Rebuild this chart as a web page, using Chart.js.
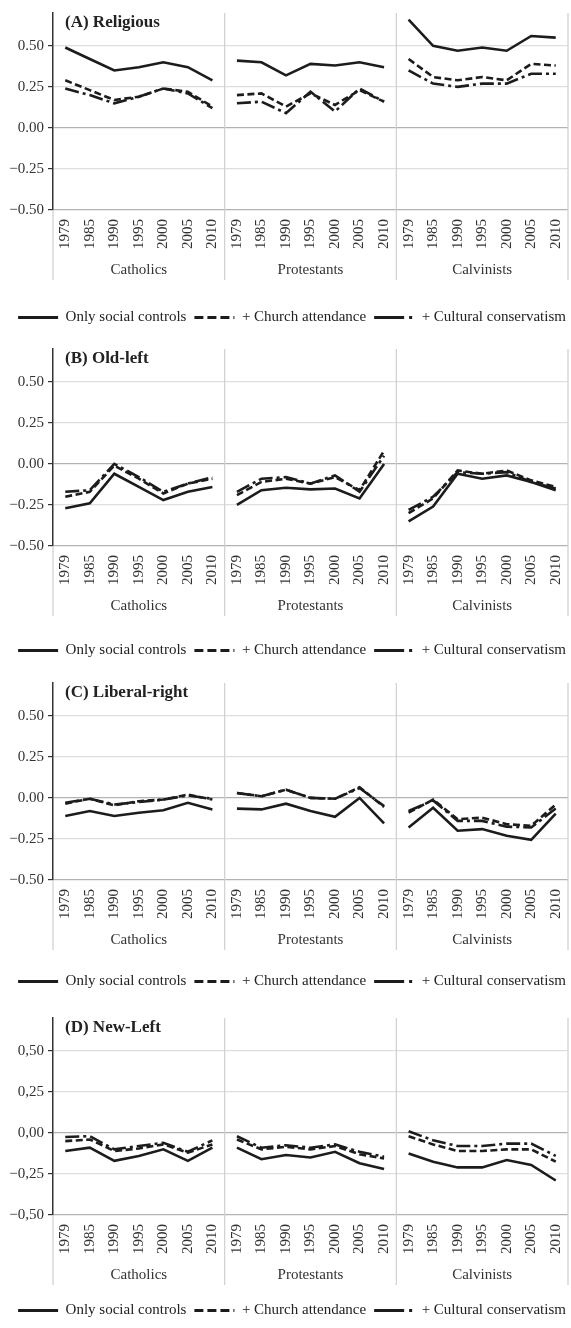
<!DOCTYPE html>
<html>
<head>
<meta charset="utf-8">
<script src="https://cdn.jsdelivr.net/npm/chart.js@4.4.1/dist/chart.umd.min.js"></script>
<style>
  html, body { margin: 0; padding: 0; background: #fff; overflow: hidden; }
  body { width: 571px; height: 1328px; position: relative; }
  canvas { position: absolute; left: 0; }
</style>
</head>
<body>
<canvas id="panelA" width="571" height="335" style="top:0px"></canvas>
<canvas id="panelB" width="571" height="332" style="top:336px"></canvas>
<canvas id="panelC" width="571" height="329" style="top:670px"></canvas>
<canvas id="panelD" width="571" height="323" style="top:1005px"></canvas>
<script>
const years = ["1979", "1985", "1990", "1995", "2000", "2005", "2010"];
const groups = ["Catholics", "Protestants", "Calvinists"];
const seriesNames = ["Only social controls", "+ Church attendance", "+ Cultural conservatism"];
const tickLabelsDot = ["\u22120.50", "\u22120.25", "0.00", "0.25", "0.50"];
const tickLabelsComma = ["\u22120,50", "\u22120,25", "0,00", "0,25", "0,50"];

// (A) Religious
const socialA = [0.49, 0.42, 0.35, 0.37, 0.40, 0.37, 0.29, 0.41, 0.40, 0.32, 0.39, 0.38, 0.40, 0.37, 0.66, 0.50, 0.47, 0.49, 0.47, 0.56, 0.55];
const churchA = [0.29, 0.23, 0.17, 0.19, 0.24, 0.22, 0.13, 0.20, 0.21, 0.13, 0.21, 0.14, 0.23, 0.16, 0.42, 0.31, 0.29, 0.31, 0.29, 0.39, 0.38];
const cultureA = [0.24, 0.20, 0.15, 0.19, 0.24, 0.21, 0.12, 0.15, 0.16, 0.09, 0.22, 0.10, 0.24, 0.16, 0.35, 0.27, 0.25, 0.27, 0.27, 0.33, 0.33];

// (B) Old-left
const socialB = [-0.27, -0.24, -0.06, -0.14, -0.22, -0.17, -0.14, -0.25, -0.16, -0.145, -0.155, -0.15, -0.21, 0.00, -0.35, -0.26, -0.06, -0.09, -0.07, -0.11, -0.16];
const churchB = [-0.20, -0.17, -0.01, -0.09, -0.18, -0.12, -0.09, -0.19, -0.11, -0.09, -0.12, -0.08, -0.16, 0.08, -0.30, -0.21, -0.04, -0.06, -0.04, -0.10, -0.14];
const cultureB = [-0.17, -0.16, 0.00, -0.08, -0.17, -0.12, -0.08, -0.17, -0.09, -0.08, -0.12, -0.07, -0.17, 0.05, -0.28, -0.20, -0.05, -0.06, -0.05, -0.11, -0.15];

// (C) Liberal-right
const socialC = [-0.11, -0.08, -0.11, -0.09, -0.075, -0.03, -0.07, -0.065, -0.07, -0.035, -0.08, -0.115, 0.00, -0.155, -0.18, -0.06, -0.20, -0.19, -0.23, -0.255, -0.095];
const churchC = [-0.035, -0.005, -0.045, -0.02, -0.01, 0.02, -0.01, 0.03, 0.01, 0.05, 0.00, -0.005, 0.065, -0.055, -0.09, -0.01, -0.13, -0.12, -0.16, -0.17, -0.04];
const cultureC = [-0.03, -0.005, -0.04, -0.025, -0.01, 0.015, -0.005, 0.03, 0.01, 0.05, 0.00, -0.005, 0.06, -0.05, -0.08, -0.015, -0.14, -0.14, -0.175, -0.18, -0.065];

// (D) New-Left
const socialD = [-0.11, -0.09, -0.17, -0.14, -0.10, -0.17, -0.09, -0.09, -0.16, -0.135, -0.15, -0.115, -0.185, -0.22, -0.125, -0.175, -0.21, -0.21, -0.165, -0.195, -0.29];
const churchD = [-0.05, -0.04, -0.11, -0.095, -0.07, -0.12, -0.07, -0.04, -0.10, -0.085, -0.10, -0.08, -0.13, -0.155, -0.02, -0.07, -0.11, -0.11, -0.10, -0.10, -0.175];
const cultureD = [-0.025, -0.02, -0.10, -0.08, -0.06, -0.115, -0.045, -0.02, -0.09, -0.075, -0.09, -0.07, -0.115, -0.145, 0.01, -0.045, -0.08, -0.08, -0.065, -0.065, -0.14];

const serif = "'Liberation Serif', 'DejaVu Serif', serif";
const lineDashes = [[], [7, 3.5], [14, 4, 3, 4]];
const legendDashes = [[], [9, 4], [30, 5, 3, 10]];

// one year label per point, group name under the middle year
var xLabels = [];
var groupLabels = [];
groups.forEach((g) => {
  years.forEach((y, i) => {
    xLabels.push(y);
    groupLabels.push(i === 3 ? g : "");
  });
});

// grey separators between the three groups, running down past the labels
const groupLines = {
  id: "groupLines",
  beforeDraw(chart) {
    // nudge the legend row a bit to the right, like the printed figure
    chart.legend.left += 8;
    chart.legend.right += 8;
  },
  beforeDatasetsDraw(chart) {
    const { ctx, chartArea, scales } = chart;
    const x = scales.x;
    var edges = [chartArea.left];
    for (let g = 1; g < groups.length; g++) {
      const i = g * years.length;
      edges.push((x.getPixelForValue(i - 1) + x.getPixelForValue(i)) / 2);
    }
    edges.push(chartArea.right);
    ctx.save();
    ctx.strokeStyle = "#cfcfcf";
    ctx.lineWidth = 1.2;
    edges.forEach((px, k) => {
      ctx.beginPath();
      ctx.moveTo(px, k === 0 ? chartArea.bottom : chartArea.top);
      ctx.lineTo(px, chartArea.bottom + 70);
      ctx.stroke();
    });
    ctx.restore();
  }
};

const panelTitle = {
  id: "panelTitle",
  afterDraw(chart, args, opts) {
    const { ctx, chartArea } = chart;
    ctx.save();
    ctx.font = "bold 17px " + serif;
    ctx.fillStyle = "#222";
    ctx.textBaseline = "middle";
    ctx.fillText(opts.text, chartArea.left + 12, chartArea.top + 10);
    ctx.restore();
  }
};

function noSidePadding(s, h) {
  s.height = h;
  s.paddingLeft = 0;
  s.paddingRight = 0;
}

function makePanel(canvasId, title, social, church, culture, tickLabels, groupGap) {
  const ctx = document.getElementById(canvasId).getContext("2d");
  const values = [social, church, culture];
  const datasets = values.map((v, k) => {
    return {
      label: seriesNames[k],
      data: v,
      borderColor: "#1c1c1c",
      backgroundColor: "#1c1c1c",
      borderWidth: 2.6,
      borderDash: lineDashes[k],
      pointRadius: 0,
      tension: 0,
      fill: false,
      segment: {
        // no line between the last year of one group and the first of the next
        borderColor: (s) => (s.p0DataIndex % years.length === years.length - 1 ? "rgba(0,0,0,0)" : undefined)
      }
    };
  });

  new Chart(ctx, {
    type: "line",
    data: { labels: xLabels, datasets },
    options: {
      responsive: false,
      animation: false,
      layout: { padding: { top: 7, right: 3, left: 0, bottom: 0 } },
      scales: {
        x: {
          type: "category",
          offset: true,
          grid: { display: false, drawTicks: false },
          border: { display: false },
          ticks: {
            autoSkip: false,
            minRotation: 90,
            maxRotation: 90,
            padding: 9,
            color: "#333",
            font: { family: serif, size: 15 }
          },
          afterFit: (s) => noSidePadding(s, 46)
        },
        x2: {
          type: "category",
          position: "bottom",
          labels: groupLabels,
          offset: true,
          grid: { display: false, drawTicks: false },
          border: { display: false },
          ticks: {
            autoSkip: false,
            maxRotation: 0,
            padding: 5,
            color: "#333",
            font: { family: serif, size: 15 }
          },
          afterFit: (s) => noSidePadding(s, groupGap)
        },
        y: {
          min: -0.5,
          max: 0.7,
          ticks: {
            stepSize: 0.25,
            includeBounds: false,
            padding: 4,
            color: "#333",
            font: { family: serif, size: 15 },
            callback: (v) => tickLabels[Math.round((v + 0.5) / 0.25)]
          },
          grid: {
            color: (c) => (c.tick && (Math.abs(c.tick.value) < 1e-9 || Math.abs(c.tick.value + 0.5) < 1e-9) ? "#b3b3b3" : "#dedede"),
            lineWidth: 1.2,
            tickColor: "#333",
            tickLength: 5
          },
          border: { color: "#333", width: 1.5 },
          afterFit: (s) => { s.width = 53; }
        }
      },
      plugins: {
        legend: {
          position: "bottom",
          align: "center",
          labels: {
            usePointStyle: true,
            pointStyle: "line",
            pointStyleWidth: 40,
            padding: 8,
            color: "#222",
            font: { family: serif, size: 15 },
            generateLabels: (chart) => {
              const items = Chart.defaults.plugins.legend.labels.generateLabels(chart);
              items.forEach((it, i) => {
                it.lineDash = legendDashes[i];
                it.lineWidth = 3;
              });
              return items;
            }
          }
        },
        tooltip: { enabled: false },
        panelTitle: { text: title }
      }
    },
    plugins: [groupLines, panelTitle]
  });
}

makePanel("panelA", "(A) Religious", socialA, churchA, cultureA, tickLabelsDot, 46);
makePanel("panelB", "(B) Old-left", socialB, churchB, cultureB, tickLabelsDot, 43);
makePanel("panelC", "(C) Liberal-right", socialC, churchC, cultureC, tickLabelsDot, 40);
makePanel("panelD", "(D) New-Left", socialD, churchD, cultureD, tickLabelsComma, 34);
</script>
</body>
</html>
